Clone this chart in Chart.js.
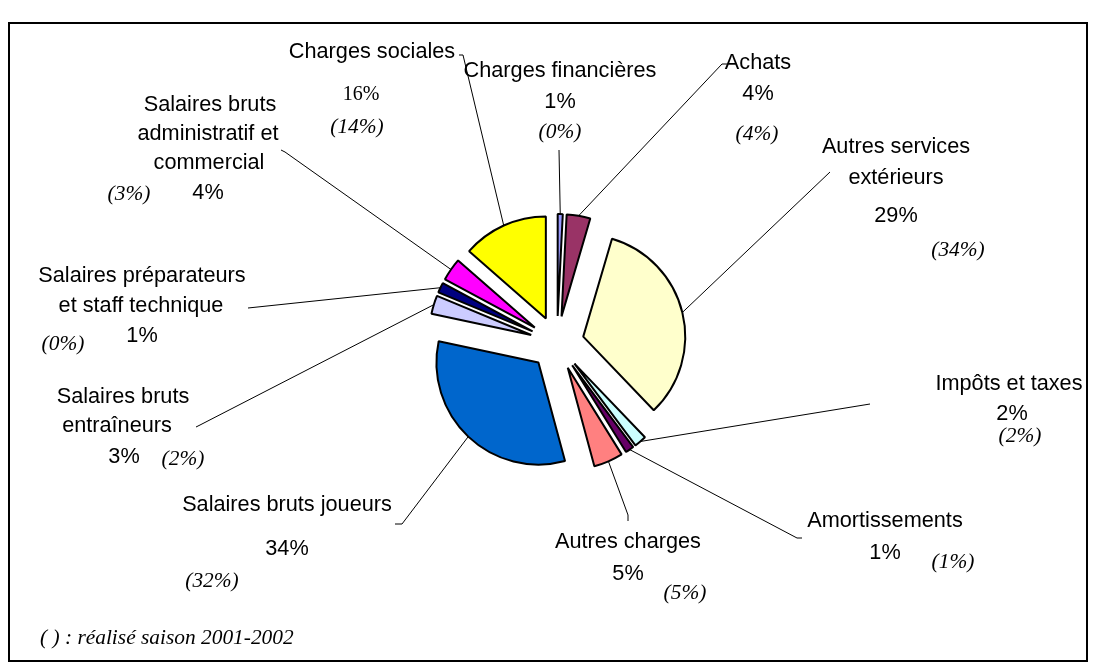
<!DOCTYPE html>
<html>
<head>
<meta charset="utf-8">
<script src="https://cdn.jsdelivr.net/npm/chart.js@4.4.1/dist/chart.umd.min.js"></script>
<style>
  html, body { margin: 0; padding: 0; background: #fff; }
  #frame { position: absolute; left: 8px; top: 22px; width: 1076px; height: 636px; border: 2px solid #000; }
  #pie { position: absolute; left: 0; top: 0; }
</style>
</head>
<body>
<div id="frame"></div>
<canvas id="pie" width="1094" height="668"></canvas>
<script>
// slices clockwise from 12 o'clock
const categories = [
  "Charges financières",
  "Achats",
  "Autres services\nextérieurs",
  "Impôts et taxes",
  "Amortissements",
  "Autres charges",
  "Salaires bruts joueurs",
  "Salaires bruts\nentraîneurs",
  "Salaires préparateurs\net staff technique",
  "Salaires bruts\nadministratif et\ncommercial",
  "Charges sociales"
];
const sliceValues = [0.8, 3.75, 33.3, 1.95, 1.35, 4.65, 32.55, 2.9, 1.6, 3.6, 13.55];
// printed budget percentages
const budgetPct = ["1%", "4%", "29%", "2%", "1%", "5%", "34%", "3%", "1%", "4%", "16%"];
// printed realised percentages (in brackets)
const realisedPct = ["(0%)", "(4%)", "(34%)", "(2%)", "(1%)", "(5%)", "(32%)", "(2%)", "(0%)", "(3%)", "(14%)"];
const footnote = "( ) : réalisé saison 2001-2002";

const colors = ["#9999FF", "#993366", "#FFFFCC", "#CCFFFF", "#660066", "#FF8080",
                "#0066CC", "#CCCCFF", "#000080", "#FF00FF", "#FFFF00"];
const EXPLODE = 108; // chart.js moves a slice by offset / 4

// label placement: [cx, baseline] per name line, pct, realised; leader end path
const layout = [
  { name: [[560, 77]], pct: [560, 108], real: [560, 138], leader: [[559, 150]] },
  { name: [[758, 69]], pct: [758, 100], real: [757, 140], leader: [[722, 64], [727, 64]] },
  { name: [[896, 153], [896, 184]], pct: [896, 222], real: [958, 256], leader: [[830, 172]] },
  { name: [[1009, 390]], pct: [1012, 420], real: [1020, 442], leader: [[870, 404]] },
  { name: [[885, 527]], pct: [885, 559], real: [953, 568], leader: [[797, 538], [802, 538]] },
  { name: [[628, 548]], pct: [628, 580], real: [685, 599], leader: [[628, 515], [628, 521]] },
  { name: [[287, 511]], pct: [287, 555], real: [212, 587], leader: [[402, 524], [395, 524]] },
  { name: [[123, 403], [117, 432]], pct: [124, 463], real: [183, 465], leader: [[200, 425], [196, 427]] },
  { name: [[142, 282], [141, 312]], pct: [142, 342], real: [63, 350], leader: [[248, 308]] },
  { name: [[210, 111], [208, 140], [209, 169]], pct: [208, 199], real: [129, 200], leader: [[285, 152], [281, 150]] },
  { name: [[372, 58]], pct: [361, 100], real: [357, 133], leader: [[463, 55], [459, 55]], serifPct: true }
];

const SANS = '21.7px "Liberation Sans", Arial, sans-serif';
const SERIF = '20px "Liberation Serif", "Times New Roman", serif';
const SERIF_IT = 'italic 21.4px "Liberation Serif", "Times New Roman", serif';

const callouts = {
  id: "callouts",
  afterDatasetsUpdate(chart) {
    // chart.js grows and trims narrow exploded slices; undo that so every slice keeps its angle
    const meta = chart.getDatasetMeta(0);
    const base = meta.controller.outerRadius;
    meta.data.forEach(arc => {
      const t = (arc.options.offset || 0) / 4;
      const grow = t * (1 - Math.sin(Math.min(Math.PI, arc.circumference)));
      const trim = grow / Math.PI / base / 2;
      arc.outerRadius = base - grow;
      arc.startAngle -= trim;
      arc.endAngle += trim;
    });
  },
  afterDatasetsDraw(chart) {
    const ctx = chart.ctx;
    const meta = chart.getDatasetMeta(0);
    const base = meta.controller.outerRadius;
    ctx.save();
    ctx.strokeStyle = "#000";
    ctx.lineWidth = 1;
    meta.data.forEach((arc, i) => {
      const t = (arc.options.offset || 0) / 4;
      const mid = (arc.startAngle + arc.endAngle) / 2;
      ctx.beginPath();
      ctx.moveTo(arc.x + Math.cos(mid) * (t + base), arc.y + Math.sin(mid) * (t + base));
      layout[i].leader.forEach(p => ctx.lineTo(p[0], p[1]));
      ctx.stroke();
    });

    ctx.fillStyle = "#000";
    ctx.textAlign = "center";
    ctx.textBaseline = "alphabetic";
    categories.forEach((cat, i) => {
      const lay = layout[i];
      ctx.font = SANS;
      cat.split("\n").forEach((line, j) => ctx.fillText(line, lay.name[j][0], lay.name[j][1]));
      ctx.font = lay.serifPct ? SERIF : SANS;
      ctx.fillText(budgetPct[i], lay.pct[0], lay.pct[1]);
      ctx.font = SERIF_IT;
      ctx.fillText(realisedPct[i], lay.real[0], lay.real[1]);
    });
    ctx.textAlign = "left";
    ctx.font = SERIF_IT;
    ctx.fillText(footnote, 40, 644);
    ctx.restore();
  }
};

new Chart(document.getElementById("pie").getContext("2d"), {
  type: "pie",
  data: {
    labels: categories,
    datasets: [{
      data: sliceValues,
      backgroundColor: colors,
      borderColor: "#000",
      borderWidth: 2,
      offset: EXPLODE,
      hoverOffset: EXPLODE
    }]
  },
  options: {
    responsive: false,
    animation: false,
    events: [],
    // square chart area centred on (557, 343), radius 102
    layout: { padding: { left: 400, right: 380, top: 186, bottom: 168 } },
    plugins: { legend: { display: false }, tooltip: { enabled: false } }
  },
  plugins: [callouts]
});
</script>
</body>
</html>
